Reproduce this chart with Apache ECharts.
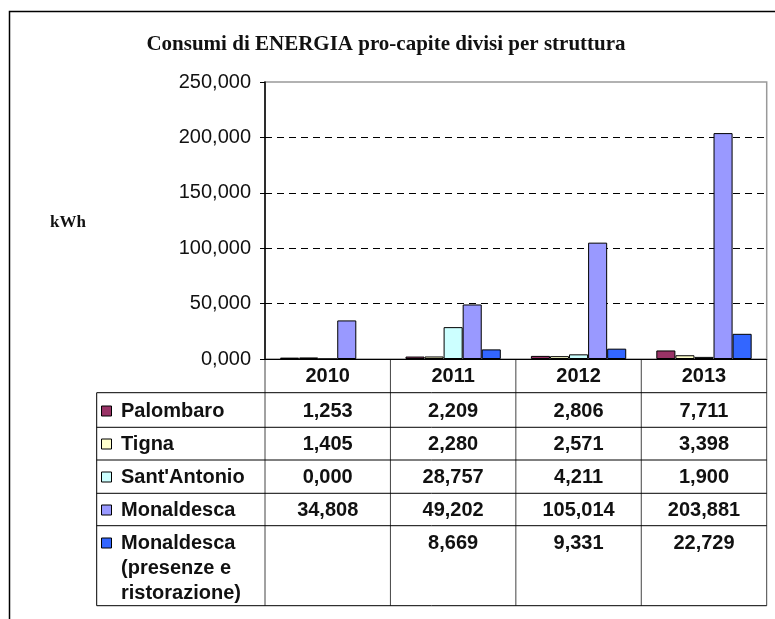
<!DOCTYPE html>
<html>
<head>
<meta charset="utf-8">
<script src="https://cdn.jsdelivr.net/npm/echarts@6/dist/echarts.min.js"></script>
<style>
  html, body { margin: 0; padding: 0; background: #fff; }
  #chart { width: 775px; height: 619px; }
</style>
</head>
<body>
<div id="chart"></div>
<script>
// dati (kWh pro-capite)
const anni = ['2010', '2011', '2012', '2013'];
const strutture = ['Palombaro', 'Tigna', "Sant'Antonio", 'Monaldesca', 'Monaldesca (presenze e ristorazione)'];
const etichetteTabella = ['Palombaro', 'Tigna', "Sant'Antonio", 'Monaldesca', 'Monaldesca\n(presenze e\nristorazione)'];
const palombaro = [1.253, 2.209, 2.806, 7.711];
const tigna = [1.405, 2.280, 2.571, 3.398];
const santAntonio = [0.000, 28.757, 4.211, 1.900];
const monaldesca = [34.808, 49.202, 105.014, 203.881];
const monaldescaPresenze = [null, 8.669, 9.331, 22.729];
const colori = ['#993366', '#FFFFCC', '#CCFFFF', '#9999FF', '#3366FF'];

const serie = [palombaro, tigna, santAntonio, monaldesca, monaldescaPresenze];

const fmt = v => (v == null ? '' : v.toFixed(3).replace('.', ','));

const chart = echarts.init(document.getElementById('chart'));

// posizioni griglia / tabella
const gLeft = 265, gRight = 766.7, gTop = 82, gBottom = 359;
const colW = (gRight - gLeft) / anni.length;
const righe = [392.7, 427.3, 460, 493.3, 525.7, 605.7];
const tabLeft = 96.7;
const fontTab = 'bold 20px "Liberation Sans", Arial, sans-serif';

const graphic = [];
// cornice esterna
graphic.push({ type: 'rect', shape: { x: 9.5, y: 11.5, width: 800, height: 700 },
  style: { fill: 'none', stroke: '#000', lineWidth: 1.5 }, z: 0 });
// titolo
graphic.push({ type: 'text', x: 386, y: 45, style: {
  text: 'Consumi di ENERGIA pro-capite divisi per struttura', fill: '#111',
  font: 'bold 21px "Liberation Serif", serif', align: 'center', verticalAlign: 'middle' } });
// unità
graphic.push({ type: 'text', x: 50, y: 223, style: {
  text: 'kWh', fill: '#111', font: 'bold 17px "Liberation Serif", serif',
  align: 'left', verticalAlign: 'middle' } });

// linee tabella
for (let i = 0; i <= anni.length; i++) {
  const x = gLeft + i * colW;
  graphic.push({ type: 'line', shape: { x1: x, y1: gBottom, x2: x, y2: righe[righe.length - 1] },
    style: { stroke: '#444', lineWidth: 1 } });
}
graphic.push({ type: 'line', shape: { x1: tabLeft, y1: righe[0], x2: tabLeft, y2: righe[righe.length - 1] },
  style: { stroke: '#000', lineWidth: 1 } });
righe.forEach(y => {
  graphic.push({ type: 'line', shape: { x1: tabLeft, y1: y, x2: gRight, y2: y },
    style: { stroke: '#000', lineWidth: 1 } });
});

// etichette righe + valori
const centriRighe = [411, 444, 477, 510, 543];
etichetteTabella.forEach((lab, r) => {
  const yc = centriRighe[r];
  graphic.push({ type: 'rect', shape: { x: 101.5, y: yc - 5, width: 10, height: 10 },
    style: { fill: colori[r], stroke: '#000', lineWidth: 1 } });
  graphic.push({ type: 'text', x: 121, y: yc - 12.5, style: {
    text: lab, fill: '#111', font: fontTab,
    align: 'left', verticalAlign: 'top', lineHeight: 25 } });
  serie[r].forEach((v, c) => {
    graphic.push({ type: 'text', x: gLeft + (c + 0.5) * colW, y: yc, style: {
      text: fmt(v), fill: '#111', font: fontTab,
      align: 'center', verticalAlign: 'middle' } });
  });
});

const option = {
  animation: false,
  backgroundColor: '#fff',
  grid: {
    left: gLeft, right: 775 - gRight, top: gTop, bottom: 619 - gBottom,
    show: true, borderColor: '#999', borderWidth: 1.5, backgroundColor: 'transparent'
  },
  xAxis: {
    type: 'category',
    data: anni,
    axisLine: { lineStyle: { color: '#000', width: 1 } },
    axisTick: { show: false },
    axisLabel: { color: '#111', fontSize: 20, fontWeight: 'bold',
      fontFamily: '"Liberation Sans", Arial, sans-serif', margin: 7 }
  },
  yAxis: {
    type: 'value',
    min: 0, max: 250, interval: 50,
    axisLine: { show: true, lineStyle: { color: '#000', width: 1.5 } },
    axisTick: { show: true, length: 5, lineStyle: { color: '#000' } },
    axisLabel: { color: '#111', fontSize: 20, margin: 14,
      fontFamily: '"Liberation Sans", Arial, sans-serif', formatter: v => fmt(v) },
    splitLine: { show: true, showMaxLine: false,
      lineStyle: { color: '#000', type: [7, 5], width: 1 } }
  },
  series: serie.map((d, i) => ({
    name: strutture[i],
    type: 'bar',
    data: d,
    barGap: '0%',
    barCategoryGap: '24%',
    itemStyle: { color: colori[i], borderColor: '#000', borderWidth: 1 }
  })),
  graphic: graphic
};

chart.setOption(option);
</script>
</body>
</html>
